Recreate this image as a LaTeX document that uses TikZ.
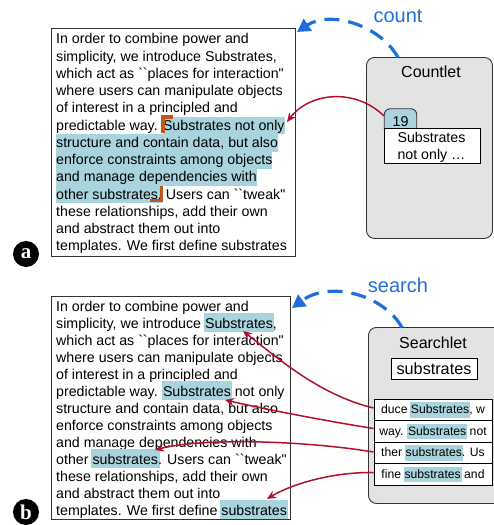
\documentclass[tikz,border=0pt]{standalone}
\usepackage{fontspec}
\setmainfont{Liberation Sans}[Ligatures=TeXOff]
\newfontfamily\labfont{Liberation Serif}
\usetikzlibrary{arrows.meta}
\definecolor{hlc}{HTML}{A9D4DD}
\definecolor{arrred}{HTML}{B3102E}
\definecolor{cblue}{HTML}{1F6FD9}
\definecolor{brk}{HTML}{C0571A}
\definecolor{panelgray}{HTML}{E3E3E3}
\definecolor{edge}{HTML}{333333}
\newcommand\hlA[1]{{\setlength\fboxsep{0pt}\colorbox{hlc}{\rule[-4.3pt]{0pt}{17.3pt}#1}}}
\newcommand\hlB[1]{\kern-1.5pt\relax{\setlength\fboxsep{0pt}\colorbox{hlc}{\rule[-3.8pt]{0pt}{18.6pt}\kern1.5pt\relax#1\kern1.5pt\relax}}\kern-1.5pt\relax}
\newcommand\hlC[1]{\kern-1pt\relax{\setlength\fboxsep{0pt}\colorbox{hlc}{\rule[-4pt]{0pt}{15.6pt}\kern1pt\relax#1\kern1pt\relax}}\kern-1pt\relax}
\tikzset{
  txt/.style={anchor=base west, inner sep=0pt, font=\fontsize{14.2}{17}\selectfont},
  docbox/.style={draw=edge, line width=1pt, fill=white, anchor=north west, inner sep=0pt},
  panel/.style={draw=edge, line width=0.9pt, fill=panelgray, rounded corners=8pt, anchor=north west, inner sep=0pt},
  title/.style={anchor=base, inner sep=0pt, font=\fontsize{16}{19}\selectfont},
  opname/.style={anchor=base, inner sep=0pt, text=cblue, font=\fontsize{20}{24}\selectfont},
  opflow/.style={cblue, line width=3.2pt, dash pattern=on 15pt off 9pt, -{Triangle[length=13pt,width=14pt]}},
  link/.style={arrred, line width=1.5pt, -{Stealth[length=9pt,width=8pt]}},
  bracket/.style={brk, line width=3.5pt},
  tag/.style={circle, fill=black, inner sep=0pt, minimum size=26pt, text=white, font=\labfont\bfseries\fontsize{21}{21}\selectfont},
  rowbox/.style={draw=black, line width=0.9pt, fill=white, minimum width=118pt, minimum height=21.5pt, inner sep=0pt, font=\fontsize{12.2}{14}\selectfont},
}
\begin{document}
\begin{tikzpicture}[x=1pt,y=-1pt]
\useasboundingbox (0,0) rectangle (493,525);

% ---------------- panel a ----------------
\node[docbox, minimum width=244.5pt, minimum height=228pt] (boxA) at (50.5,28) {};
\node[txt] (a1)  at (56,43.8)  {In order to combine power and};
\node[txt] (a2)  at (56,61.05) {simplicity, we introduce Substrates,};
\node[txt] (a3)  at (56,78.3)  {which act as ``places for interaction"};
\node[txt] (a4)  at (56,95.55) {where users can manipulate objects};
\node[txt] (a5)  at (56,112.8) {of interest in a principled and};
\node[txt] (a6)  at (56,130.05){predictable way. \hlA{Substrates not only}};
\node[txt] (a7)  at (56,147.3) {\hlA{structure and contain data, but also}};
\node[txt] (a8)  at (56,164.55){\hlA{enforce constraints among objects}};
\node[txt] (a9)  at (56,181.8) {\hlA{and manage dependencies with}};
\node[txt] (a10) at (56,199.05){\hlA{other substrates.} Users can ``tweak"};
\node[txt] (a11) at (56,216.3) {these relationships, add their own};
\node[txt] (a12) at (56,233.55){and abstract them out into};
\node[txt] (a13) at (56,250.8) {templates. We first define substrates};
\draw[bracket] (172.5,117) -- (162.8,117) -- (162.8,132.5);
\draw[bracket] (161.5,186) -- (161.5,200.5) -- (149.5,200.5);

\node[panel, minimum width=126pt, minimum height=181pt] (countlet) at (366,57) {};
\node[title] (ctitle) at (431,77.3) {Countlet};
\node[draw=edge, line width=0.9pt, fill=hlc, rounded corners=6pt, minimum width=32.5pt, minimum height=26pt, inner sep=0pt, anchor=north] (tab19) at (400.5,108.3) {};
\node[draw=black, line width=0.9pt, fill=white, minimum width=95.7pt, minimum height=34.4pt, inner sep=0pt, anchor=north west] (snip) at (384.3,128.3) {};
\node[anchor=base, inner sep=0pt, font=\fontsize{14.2}{17}\selectfont] (n19) at (400.5,126) {19};
\node[anchor=base, inner sep=0pt, font=\fontsize{14.2}{17}\selectfont] (snip1) at (431.5,142.8) {Substrates};
\node[anchor=base, inner sep=0pt, font=\fontsize{14.2}{17}\selectfont] (snip2) at (431.5,159.6) {not only \dots};

\node[opname] (count) at (398,22.7) {count};
\coordinate (cstart) at (398,57.5);
\coordinate (cend) at (297,32);
\draw[opflow] (cstart) .. controls (380,25) and (330,10) .. (cend);
\coordinate (ta) at (287,122);
\draw[link] ([yshift=6pt]tab19.west) .. controls (355,88) and (310,92) .. (ta);

\node[tag] (labA) at (26,254) {a};

% ---------------- panel b ----------------
\node[docbox, minimum width=239.5pt, minimum height=222.5pt] (boxB) at (50.5,296) {};
\node[txt] (b1)  at (56,311.2) {In order to combine power and};
\node[txt] (b2)  at (56,328.2) {simplicity, we introduce \hlB{Substrates},};
\node[txt] (b3)  at (56,345.2) {which act as ``places for interaction"};
\node[txt] (b4)  at (56,362.2) {where users can manipulate objects};
\node[txt] (b5)  at (56,379.2) {of interest in a principled and};
\node[txt] (b6)  at (56,396.2) {predictable way. \hlB{Substrates} not only};
\node[txt] (b7)  at (56,413.2) {structure and contain data, but also};
\node[txt] (b8)  at (56,430.2) {enforce constraints among objects};
\node[txt] (b9)  at (56,447.2) {and manage dependencies with};
\node[txt] (b10) at (56,464.2) {other \hlB{substrates}. Users can ``tweak"};
\node[txt] (b11) at (56,481.2) {these relationships, add their own};
\node[txt] (b12) at (56,498.2) {and abstract them out into};
\node[txt] (b13) at (56,515.2) {templates. We first define \hlB{substrates}};

\node[panel, minimum width=135pt, minimum height=176pt] (searchlet) at (368,327) {};
\node[title] (stitle) at (433,348.5) {Searchlet};
\node[draw=black, line width=0.9pt, fill=white, minimum width=86pt, minimum height=21pt, inner sep=0pt, font=\fontsize{16.2}{19}\selectfont] (query) at (434,368.5) {substrates};
\node[rowbox] (r1) at (433,410)   {duce \hlC{Substrates}, w};
\node[rowbox] (r2) at (433,431.5) {way. \hlC{Substrates} not};
\node[rowbox] (r3) at (433,453)   {ther \hlC{substrates}. Us};
\node[rowbox] (r4) at (433,474.5) {fine \hlC{substrates} and};

\node[opname] (search) at (398,292.7) {search};
\coordinate (sstart) at (402,327.5);
\coordinate (send) at (292,308);
\draw[opflow] (sstart) .. controls (384,295) and (330,280) .. (send);

\coordinate (tb1) at (243,331);
\coordinate (tb2) at (225,400);
\coordinate (tb3) at (155,450);
\coordinate (tb4) at (267,499);
\draw[link] ([yshift=2pt]r1.west) .. controls (320,395) and (280,360) .. (tb1);
\draw[link] ([yshift=3pt]r2.west) .. controls (320,420) and (260,408) .. (tb2);
\draw[link] ([yshift=1pt]r3.west) .. controls (300,440) and (200,438) .. (tb3);
\draw[link] ([yshift=2pt]r4.west) .. controls (330,472) and (290,485) .. (tb4);

\node[tag] (labB) at (26,512) {b};
\end{tikzpicture}
\end{document}
